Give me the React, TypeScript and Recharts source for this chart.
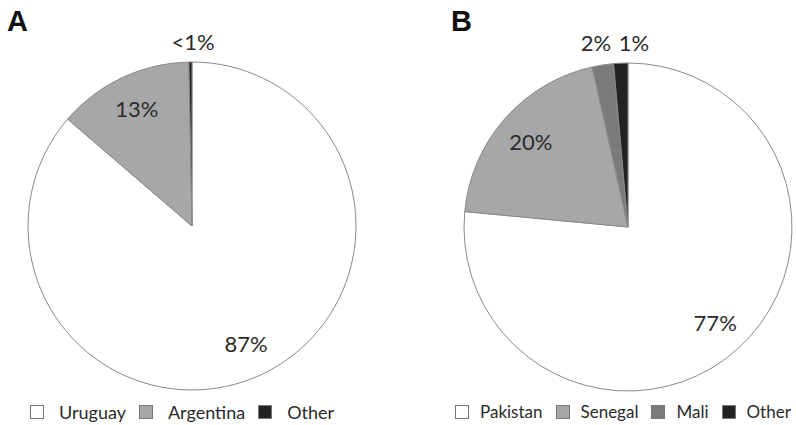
import { Cell, Pie, PieChart } from 'recharts'

const A_NAMES = ['Uruguay', 'Argentina', 'Other']
const A_VALUES = [86.3, 13.4, 0.3]
const A_LABELS = ['87%', '13%', '<1%']
const A_COLORS = ['#ffffff', '#a7a7aa', '#222222']

const B_NAMES = ['Pakistan', 'Senegal', 'Mali', 'Other']
const B_VALUES = [76.5, 20.0, 2.1, 1.4]
const B_LABELS = ['77%', '20%', '2%', '1%']
const B_COLORS = ['#ffffff', '#a7a7aa', '#7b7b7e', '#222222']

const W = 796
const H = 425
const R = 164
const FONT = 'Lato, "Open Sans", sans-serif'
const RAD = Math.PI / 180

const dataA = A_NAMES.map((name, i) => ({ name, value: A_VALUES[i], label: A_LABELS[i] }))
const dataB = B_NAMES.map((name, i) => ({ name, value: B_VALUES[i], label: B_LABELS[i] }))

// big slices: label inside at ~0.79 R; small slices: in a row above the top of the pie
function makeLabel(smallDx: number[], nSlices: number) {
  return (props: any) => {
    const { cx, cy, midAngle, outerRadius, percent, index, payload } = props
    let x: number
    let y: number
    if (percent < 0.05) {
      x = cx + (smallDx[smallDx.length - (nSlices - index)] ?? 0)
      y = cy - outerRadius - 21
    } else {
      const r = outerRadius * 0.79
      x = cx + r * Math.cos(-midAngle * RAD)
      y = cy + r * Math.sin(-midAngle * RAD)
    }
    return (
      <text
        x={x}
        y={y}
        textAnchor="middle"
        dominantBaseline="central"
        fill="#2b2b2b"
        fontSize={22}
        fontFamily={FONT}
      >
        {payload.label}
      </text>
    )
  }
}

interface LegendRowProps {
  names: string[]
  colors: string[]
  left: number
  fontSize: number
  gap: number
}

function LegendRow({ names, colors, left, fontSize, gap }: LegendRowProps) {
  return (
    <div
      style={{
        position: 'absolute',
        left,
        top: 401,
        display: 'flex',
        alignItems: 'center',
        fontFamily: FONT,
        fontSize,
        color: '#2b2b2b',
        whiteSpace: 'nowrap',
      }}
    >
      {names.map((n, i) => (
        <div key={n} style={{ display: 'flex', alignItems: 'center', marginRight: 13 }}>
          <span
            style={{
              width: 14,
              height: 14,
              background: colors[i],
              border: '1px solid #777',
              boxSizing: 'border-box',
              marginRight: gap,
              display: 'inline-block',
            }}
          />
          <span>{n}</span>
        </div>
      ))}
    </div>
  )
}

export default function App() {
  const panelLetter = (t: string, left: number) => (
    <div
      style={{
        position: 'absolute',
        left,
        top: 5,
        fontFamily: '"Liberation Sans", Arial, sans-serif',
        fontWeight: 700,
        fontSize: 29,
        color: '#111',
      }}
    >
      {t}
    </div>
  )

  return (
    <div style={{ position: 'absolute', left: 0, top: 0, width: W, height: H, background: '#fff' }}>
      <PieChart width={W} height={H} margin={{ top: 0, right: 0, bottom: 0, left: 0 }}>
        <Pie
          data={dataA}
          dataKey="value"
          cx={192}
          cy={226}
          outerRadius={R}
          startAngle={90}
          endAngle={-270}
          stroke="#8a8a8a"
          strokeWidth={1}
          labelLine={false}
          label={makeLabel([1], dataA.length)}
          isAnimationActive={false}
        >
          {dataA.map((d, i) => (
            <Cell key={d.name} fill={A_COLORS[i]} />
          ))}
        </Pie>
        <Pie
          data={dataB}
          dataKey="value"
          cx={628}
          cy={227}
          outerRadius={R}
          startAngle={90}
          endAngle={-270}
          stroke="#8a8a8a"
          strokeWidth={1}
          labelLine={false}
          label={makeLabel([-32, 6], dataB.length)}
          isAnimationActive={false}
        >
          {dataB.map((d, i) => (
            <Cell key={d.name} fill={B_COLORS[i]} />
          ))}
        </Pie>
      </PieChart>
      {panelLetter('A', 7)}
      {panelLetter('B', 451)}
      <LegendRow names={A_NAMES} colors={A_COLORS} left={30} fontSize={18} gap={15} />
      <LegendRow names={B_NAMES} colors={B_COLORS} left={455} fontSize={17} gap={11} />
    </div>
  )
}
